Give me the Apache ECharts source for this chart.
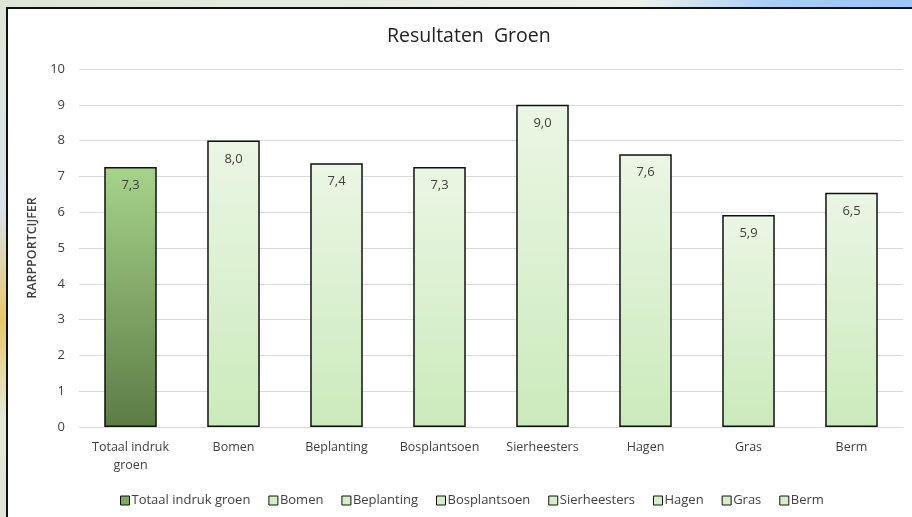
<!DOCTYPE html>
<html>
<head>
<meta charset="utf-8">
<script src="https://cdn.jsdelivr.net/npm/echarts@6/dist/echarts.min.js"></script>
<style>
	html, body { margin: 0; padding: 0; }
	body {
		width: 912px; height: 517px; overflow: hidden;
		background: linear-gradient(90deg, #dfe6d8 0%, #e6ebe2 40%, #eef1ec 70%, #a8ccf5 85%, #9cc6f7 100%);
		position: relative;
	}
	#side {
		position: absolute; left: 0; top: 0; width: 6px; height: 517px;
		background: linear-gradient(180deg, #dfe6d8 0%, #d9e3ea 40%, #e8c86a 62%, #e4e8d6 80%, #dfe6d8 100%);
	}
	#panel {
		position: absolute; left: 6px; top: 7px; width: 906px; height: 510px;
		background: #fff; border-left: 2px solid #111; border-top: 2px solid #111;
		box-sizing: border-box;
	}
	#chart { position: absolute; left: 0; top: 0; width: 912px; height: 517px; }
</style>
</head>
<body>
<div id="side"></div>
<div id="panel"></div>
<div id="chart"></div>
<script>
var CATEGORIES = ['Totaal indruk groen', 'Bomen', 'Beplanting', 'Bosplantsoen', 'Sierheesters', 'Hagen', 'Gras', 'Berm'];
var SCORES = [7.26, 8.0, 7.37, 7.26, 9.0, 7.62, 5.92, 6.54];
var Y_TICKS = [0, 1, 2, 3, 4, 5, 6, 7, 8, 9, 10];

var TXT = '#404040';
var FONT = '"Open Sans", "Noto Sans", sans-serif';

function fmtComma(v) {
	return v.toFixed(1).replace('.', ',');
}

function getGradient(idx) {
	if(idx == 0) {
		return new echarts.graphic.LinearGradient(0, 0, 0, 1, [
			{offset: 0, color: '#a6d38b'},
			{offset: 1, color: '#5c7c45'}
		]);
	}
	return new echarts.graphic.LinearGradient(0, 0, 0, 1, [
		{offset: 0, color: '#ebf6e5'},
		{offset: 1, color: '#cbeabb'}
	]);
}

function getSeries() {
	var arr = [];
	for(var i = 0; i < CATEGORIES.length; i++) {
		var data = [];
		for(var j = 0; j < CATEGORIES.length; j++) {
			data.push(j == i ? SCORES[j] : null);
		}
		arr.push({
			name: CATEGORIES[i],
			type: 'bar',
			stack: 'groen',
			barWidth: '51%',
			itemStyle: {
				color: getGradient(i),
				borderColor: '#111',
				borderWidth: 1.5
			},
			label: {
				show: true,
				position: 'insideTop',
				distance: 12,
				color: TXT,
				fontFamily: FONT,
				fontSize: 13,
				formatter: function(p) { return fmtComma(p.value); }
			},
			data: data
		});
	}
	return arr;
}

var legendData = [];
for(var k = 0; k < CATEGORIES.length; k++) {
	legendData.push({
		name: CATEGORIES[k],
		itemStyle: {
			color: k == 0 ? '#7ea863' : '#d6efc9',
			borderColor: '#111',
			borderWidth: 1
		}
	});
}

var chart = echarts.init(document.getElementById('chart'));
chart.setOption({
	animation: false,
	backgroundColor: 'transparent',
	title: {
		text: 'Resultaten  Groen',
		left: 382,
		top: 21,
		textStyle: {
			fontFamily: FONT,
			fontWeight: 'normal',
			fontSize: 19.5,
			color: '#222'
		}
	},
	legend: {
		data: legendData,
		left: 115,
		top: 489,
		icon: 'rect',
		itemWidth: 9,
		itemHeight: 9,
		itemGap: 18,
		textStyle: {
			fontFamily: FONT,
			fontSize: 13,
			color: TXT,
			padding: [0, 0, 0, -3]
		}
	},
	grid: {
		left: 79,
		right: 9,
		top: 69,
		bottom: 90
	},
	xAxis: {
		type: 'category',
		data: CATEGORIES,
		axisTick: { show: false },
		axisLine: { lineStyle: { color: '#d9d9d9', width: 1 } },
		axisLabel: {
			color: TXT,
			fontFamily: FONT,
			fontSize: 12.5,
			margin: 11,
			lineHeight: 18,
			interval: 0,
			formatter: function(v) {
				return v == 'Totaal indruk groen' ? 'Totaal indruk\ngroen' : v;
			}
		}
	},
	yAxis: {
		type: 'value',
		min: Y_TICKS[0],
		max: Y_TICKS[Y_TICKS.length - 1],
		interval: 1,
		name: 'RARPPORTCIJFER',
		nameLocation: 'middle',
		nameGap: 32,
		nameRotate: 90,
		nameTextStyle: {
			fontFamily: FONT,
			fontSize: 12.5,
			fontWeight: 600,
			color: TXT
		},
		axisLine: { show: false },
		axisTick: { show: false },
		axisLabel: {
			color: TXT,
			fontFamily: FONT,
			fontSize: 13,
			margin: 14
		},
		splitLine: { lineStyle: { color: '#d9d9d9', width: 1 } }
	},
	series: getSeries()
});
</script>
</body>
</html>
